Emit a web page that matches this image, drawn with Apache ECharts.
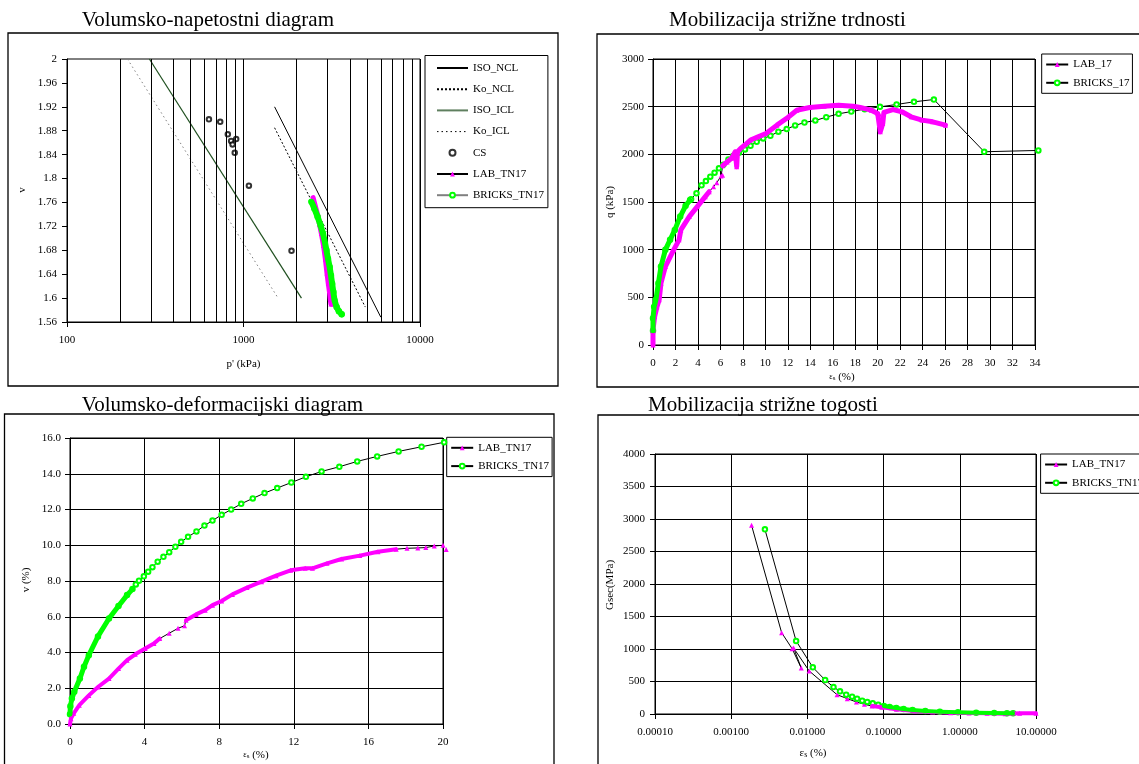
<!DOCTYPE html>
<html><head><meta charset="utf-8">
<script src="https://cdn.jsdelivr.net/npm/echarts@6/dist/echarts.min.js"></script>
<style>html,body{margin:0;padding:0;background:#fff}#c{width:1139px;height:764px}</style>
</head><body><div id="c"></div>
<script>
// ---------- Panel 1: Volumsko-napetostni diagram ----------
const p1GridX = [200,300,400,500,600,700,800,900,1000,2000,3000,4000,5000,6000,7000,8000,9000];
const p1IsoNCL = [[1500,1.92],[6000,1.568]];
const p1KoNCL = [[1500,1.885],[4900,1.585]];
const p1IsoICL = [[293,2.0],[2130,1.6]];
const p1KoICL = [[220,2.0],[1570,1.6]];
const p1CS = [[637,1.899],[738,1.895],[815,1.874],[851,1.863],[867,1.857],[909,1.866],[892,1.843],[1073,1.788],[1871,1.679]];
const p1LAB = [[2480,1.768],[2530,1.758],[2600,1.745],[2680,1.728],[2760,1.708],[2840,1.688],[2910,1.665],[2970,1.642],[3020,1.625],[3070,1.61],[3100,1.598],[3130,1.59],[3200,1.59]];
const p1Bricks = [[2428,1.761],[2520,1.75],[2630,1.736],[2730,1.722],[2820,1.708],[2890,1.694],[2950,1.680],[3010,1.666],[3077,1.652],[3130,1.638],[3178,1.624],[3230,1.61],[3280,1.596],[3370,1.585],[3470,1.578],[3600,1.573]];

// ---------- Panel 2: Mobilizacija strižne trdnosti ----------
const p2LabDense1 = [[0,0],[0,160],[0.15,300],[0.35,400],[0.55,474],[0.71,649],[1.1,823],[1.84,998],[2.32,1103],[2.48,1207],[3.23,1347],[3.94,1452],[4.65,1556],[5.0,1608]];
const p2LabSparse = [[5.39,1661],[5.68,1703],[6.06,1773],[6.19,1780]];
const p2LabDense2 = [[6.2,1880],[6.6,1920],[7.0,1960],[7.32,2027],[7.45,1870],[7.52,2027],[7.8,2062],[8.2,2100],[8.68,2150],[9.3,2180],[10.06,2219],[11.03,2306],[12.0,2387],[12.8,2463],[13.94,2491],[15.23,2505],[16.52,2516],[17.8,2505],[18.45,2491],[19.42,2463],[20.0,2428],[20.15,2420],[20.23,2236],[20.45,2324],[20.55,2439],[21.35,2470],[22.16,2446],[22.97,2394],[23.94,2359],[24.9,2341],[26.03,2306]];
const p2BricksDense = [[0,150],[0,280],[0.1,400],[0.26,474],[0.48,649],[0.71,823],[1.1,998],[1.52,1103],[1.94,1207],[2.42,1347],[2.9,1460],[3.3,1520]];
const p2BricksSparse = [[3.39,1528],[3.87,1591],[4.32,1675],[4.71,1720],[5.1,1766],[5.48,1808],[5.87,1853],[6.26,1891],[6.71,1947],[7.13,1982],[7.65,2017],[8.19,2052],[8.68,2090],[9.23,2132],[9.81,2167],[10.45,2195],[11.16,2237],[11.9,2265],[12.65,2303],[13.48,2334],[14.45,2355],[15.42,2390],[16.52,2425],[17.65,2449],[18.84,2474],[20.2,2498],[21.68,2523],[23.23,2551],[25.0,2575],[29.48,2027],[34.3,2041]];

// ---------- Panel 3: Volumsko-deformacijski diagram ----------
const p3LabDense1 = [[0,0],[0.05,0.3],[0.2,0.6],[0.5,1.05],[1.01,1.6],[1.5,2.07],[2.09,2.54],[2.6,3.1],[3.06,3.57],[3.5,3.9],[4.03,4.22],[4.5,4.5],[4.81,4.78]];
const p3LabSparse1 = [[5.32,5.08],[5.79,5.35],[6.14,5.5]];
const p3LabDense2 = [[6.22,5.81],[6.76,6.13],[7.25,6.37],[7.64,6.65],[8.13,6.88],[8.71,7.25],[9.49,7.63],[10.27,7.96],[11.05,8.3],[11.83,8.6],[12.61,8.71],[13.0,8.71],[13.78,8.99],[14.56,9.23],[15.54,9.42],[16.51,9.64],[17.49,9.78]];
const p3LabSparse2 = [[18.07,9.83],[18.65,9.85],[19.08,9.87],[19.53,9.96],[20.0,10.0],[20.17,9.76]];
const p3BricksDense = [[0,0.55],[0.02,1.0],[0.1,1.42],[0.23,1.8],[0.53,2.54],[0.75,3.2],[1.01,3.85],[1.5,4.9],[2.09,5.9],[2.6,6.6],[3.06,7.21],[3.35,7.55]];
const p3BricksSparse = [[3.53,7.81],[3.7,8.02],[3.96,8.26],[4.19,8.52],[4.42,8.77],[4.70,9.08],[5.01,9.35],[5.32,9.61],[5.65,9.91],[5.96,10.19],[6.33,10.47],[6.78,10.77],[7.21,11.1],[7.64,11.38],[8.13,11.7],[8.64,12.0],[9.18,12.32],[9.8,12.62],[10.43,12.92],[11.11,13.2],[11.87,13.51],[12.65,13.83],[13.49,14.13],[14.44,14.39],[15.40,14.69],[16.47,14.97],[17.62,15.25],[18.85,15.51],[20.06,15.76]];

// ---------- Panel 4: Mobilizacija strižne togosti ----------
const p4Lab = [[0.00185,2903],[0.00459,1251],[0.0063,1005],[0.0083,708],[0.00659,1015],[0.01056,662],[0.0245,297],[0.0334,236],[0.044,185],[0.056,149],[0.0705,123],[0.0946,103],[0.147,72],[0.254,46],[0.44,31],[0.76,21],[1.32,15],[2.28,10],[3.94,5],[6.1,10],[10,10]];
const p4Bricks = [[0.00277,2841],[0.00711,1123],[0.01178,718],[0.0171,523],[0.022,415],[0.0268,349],[0.0323,297],[0.0386,267],[0.0449,236],[0.0524,205],[0.061,185],[0.072,164],[0.085,144],[0.101,123],[0.12,108],[0.147,92],[0.183,77],[0.24,62],[0.353,46],[0.547,36],[0.946,26],[1.64,21],[2.83,15],[4.16,10],[5.0,10]];

const FONT = '"Liberation Serif","Times New Roman",serif';
const MAG = '#ff00ff', GRN = '#00ff00', BLK = '#000';

function axisBase(extra) {
  return Object.assign({
    axisLine: {show: true, onZero: false, lineStyle: {color: BLK, width: 1}},
    axisTick: {show: true, inside: false, length: 5, lineStyle: {color: BLK, width: 1}},
    axisLabel: {color: BLK, fontFamily: FONT, fontSize: 11},
    splitLine: {show: true, lineStyle: {color: BLK, width: 1, type: 'solid'}},
    minorTick: {show: false}, minorSplitLine: {show: false}
  }, extra);
}
const plain = v => String(v);
function lbl(margin, fmt) { return {color: BLK, fontFamily: FONT, fontSize: 11, margin: margin, formatter: fmt || plain}; }

const labSym = (name, xi, data, extra) => Object.assign({
  name, type: 'line', xAxisIndex: xi, yAxisIndex: xi, data, symbol: 'triangle', symbolSize: 5,
  showAllSymbol: true, itemStyle: {color: MAG}, lineStyle: {color: BLK, width: 1}, z: 3, silent: true
}, extra || {});
const brSym = (name, xi, data, extra) => Object.assign({
  name, type: 'line', xAxisIndex: xi, yAxisIndex: xi, data, symbol: 'emptyCircle', symbolSize: 4.5,
  showAllSymbol: true, itemStyle: {color: GRN, borderWidth: 1}, lineStyle: {color: BLK, width: 1}, z: 4, silent: true
}, extra || {});
const thick = (xi, data, color, w, z) => ({
  name: '_ov', type: 'line', xAxisIndex: xi, yAxisIndex: xi, data, symbol: 'none',
  lineStyle: {color, width: w, cap: 'round', join: 'round'}, z: z, silent: true
});

const noSym = {color: 'rgba(0,0,0,0)', borderWidth: 0, opacity: 0};
const legendBase = (left, top, names, itemWidth, gap, padding) => ({
  orient: 'vertical', left, top, data: names, itemWidth, itemHeight: 6, itemGap: gap,
  padding, borderColor: BLK, borderWidth: 1, backgroundColor: '#fff',
  textStyle: {color: BLK, fontFamily: FONT, fontSize: 11},
  formatter: n => n.slice(2), selectedMode: false, inactiveColor: BLK
});

const txt = (x, y, text, size, extra) => Object.assign({
  type: 'text', x, y, silent: true, z: 100,
  style: Object.assign({text, fill: BLK, font: size + 'px ' + FONT, align: 'left', verticalAlign: 'middle',
    textAlign: 'left', textVerticalAlign: 'middle'}, (extra && extra.style) || {})
}, extra && extra.rotation !== undefined ? {rotation: extra.rotation} : {});
const rect = (x, y, w, h) => ({type: 'rect', silent: true, z: -10, shape: {x, y, width: w, height: h},
  style: {fill: 'none', stroke: BLK, lineWidth: 1.3}});
const epsRich = (eSize, sSize) => ({
  rich: {
    e: {fontFamily: FONT, fontSize: eSize, fill: BLK},
    s: {fontFamily: FONT, fontSize: sSize, fill: BLK, padding: [3, 0, 0, 0]},
    p: {fontFamily: FONT, fontSize: 11, fill: BLK}
  }
});

const option = {
  animation: false,
  backgroundColor: '#fff',
  grid: [
    {left: 67, top: 59, width: 353, height: 263, show: true, borderColor: BLK, borderWidth: 1, backgroundColor: '#fff', outerBoundsMode: 'none', containLabel: false},
    {left: 653, top: 59, width: 382, height: 286, show: true, borderColor: BLK, borderWidth: 1, backgroundColor: '#fff', outerBoundsMode: 'none', containLabel: false},
    {left: 70, top: 438, width: 373, height: 286, show: true, borderColor: BLK, borderWidth: 1, backgroundColor: '#fff', outerBoundsMode: 'none', containLabel: false},
    {left: 655, top: 454, width: 381, height: 260, show: true, borderColor: BLK, borderWidth: 1, backgroundColor: '#fff', outerBoundsMode: 'none', containLabel: false}
  ],
  xAxis: [
    axisBase({type: 'log', logBase: 10, gridIndex: 0, min: 100, max: 10000, axisLabel: lbl(13, v => String(Math.round(v)))}),
    axisBase({type: 'value', gridIndex: 1, min: 0, max: 34, interval: 2, axisLabel: lbl(13)}),
    axisBase({type: 'value', gridIndex: 2, min: 0, max: 20, interval: 4, axisLabel: lbl(13)}),
    axisBase({type: 'log', logBase: 10, gridIndex: 3, min: 0.0001, max: 10, axisLabel: lbl(13, v => v.toFixed(5))})
  ],
  yAxis: [
    axisBase({type: 'value', gridIndex: 0, min: 1.56, max: 2, interval: 0.04, splitLine: {show: false}, axisLabel: lbl(10, v => String(+v.toFixed(2)))}),
    axisBase({type: 'value', gridIndex: 1, min: 0, max: 3000, interval: 500, axisLabel: lbl(9)}),
    axisBase({type: 'value', gridIndex: 2, min: 0, max: 16, interval: 2, axisLabel: lbl(9, v => v.toFixed(1))}),
    axisBase({type: 'value', gridIndex: 3, min: 0, max: 4000, interval: 500, axisLabel: lbl(10)})
  ],
  legend: [
    legendBase(425, 55.5, [
      {name: 'a:ISO_NCL', itemStyle: noSym}, {name: 'a:Ko_NCL', itemStyle: noSym},
      {name: 'a:ISO_ICL', itemStyle: noSym, lineStyle: {color: '#5f7f5f', width: 2}},
      {name: 'a:Ko_ICL', itemStyle: noSym, lineStyle: {color: BLK, width: 1}},
      'a:CS', 'a:LAB_TN17', 'a:BRICKS_TN17'], 31, 10.2, [7, 4, 7, 11]),
    legendBase(1041.7, 54, ['b:LAB_17','b:BRICKS_17'], 22, 7.3, [5, 3, 5, 3.5]),
    legendBase(446.7, 437.3, ['c:LAB_TN17','c:BRICKS_TN17'], 22, 7.3, [5, 3, 5, 3.5]),
    legendBase(1040.6, 454, ['d:LAB_TN17','d:BRICKS_TN17'], 22, 7.3, [5, 3, 5, 3.5])
  ],
  series: [
    // panel 1
    {name: 'a:ISO_NCL', type: 'line', xAxisIndex: 0, yAxisIndex: 0, data: p1IsoNCL, symbol: 'none', silent: true,
      itemStyle: {color: BLK}, lineStyle: {color: BLK, width: 1},
      markLine: {silent: true, symbol: 'none', label: {show: false}, animation: false,
        lineStyle: {color: BLK, width: 1, type: 'solid'}, emphasis: {disabled: true},
        data: p1GridX.map(v => ({xAxis: v}))}},
    {name: 'a:Ko_NCL', type: 'line', xAxisIndex: 0, yAxisIndex: 0, data: p1KoNCL, symbol: 'none', silent: true,
      itemStyle: {color: BLK}, lineStyle: {color: BLK, width: 1, type: [2, 2]}},
    {name: 'a:ISO_ICL', type: 'line', xAxisIndex: 0, yAxisIndex: 0, data: p1IsoICL, symbol: 'none', silent: true,
      itemStyle: {color: '#1f4f1f'}, lineStyle: {color: '#1f4f1f', width: 1.2}},
    {name: 'a:Ko_ICL', type: 'line', xAxisIndex: 0, yAxisIndex: 0, data: p1KoICL, symbol: 'none', silent: true,
      itemStyle: {color: '#808080'}, lineStyle: {color: '#808080', width: 1, type: [1.5, 3]}},
    {name: 'a:CS', type: 'scatter', xAxisIndex: 0, yAxisIndex: 0, data: p1CS, symbol: 'emptyCircle', symbolSize: 4.5, silent: true,
      itemStyle: {color: BLK, borderWidth: 1}},
    labSym('a:LAB_TN17', 0, p1LAB),
    thick(0, p1LAB, MAG, 5, 5),
    brSym('a:BRICKS_TN17', 0, p1Bricks, {lineStyle: {color: '#808080', width: 1.5}}),
    thick(0, p1Bricks, GRN, 6, 6),
    // panel 2
    labSym('b:LAB_17', 1, p2LabDense1.concat(p2LabSparse, p2LabDense2)),
    thick(1, p2LabDense1, MAG, 5, 5),
    thick(1, p2LabDense2, MAG, 5, 5),
    brSym('b:BRICKS_17', 1, p2BricksDense.concat(p2BricksSparse), {clip: false}),
    thick(1, p2BricksDense, GRN, 5, 6),
    // panel 3
    labSym('c:LAB_TN17', 2, p3LabDense1.concat(p3LabSparse1, p3LabDense2, p3LabSparse2), {clip: false}),
    thick(2, p3LabDense1, MAG, 4, 5),
    thick(2, p3LabDense2, MAG, 4, 5),
    brSym('c:BRICKS_TN17', 2, p3BricksDense.concat(p3BricksSparse), {clip: false}),
    thick(2, p3BricksDense, GRN, 5, 6),
    // panel 4
    labSym('d:LAB_TN17', 3, p4Lab),
    thick(3, p4Lab.slice(10), MAG, 4, 5),
    brSym('d:BRICKS_TN17', 3, p4Bricks),
    thick(3, p4Bricks.slice(13), GRN, 4, 6)
  ],
  graphic: [
    rect(8, 33, 550, 353), rect(597, 34, 600, 353), rect(4.5, 414, 549.5, 400), rect(598, 415, 600, 400),
    txt(81.8, 20.3, 'Volumsko-napetostni diagram', 21),
    txt(669, 20.3, 'Mobilizacija strižne trdnosti', 21),
    txt(81.8, 405.2, 'Volumsko-deformacijski diagram', 21),
    txt(648, 405.2, 'Mobilizacija strižne togosti', 21),
    // axis names
    txt(243.5, 364, "p' (kPa)", 11, {style: {align: 'center', textAlign: 'center'}}),
    txt(22.5, 190, 'v', 11, {rotation: Math.PI / 2, style: {align: 'center', textAlign: 'center'}}),
    txt(610, 202, 'q (kPa)', 11, {rotation: Math.PI / 2, style: {align: 'center', textAlign: 'center'}}),
    txt(842, 377, '{e|ε}{s|s}{p| (%)}', 11, {style: Object.assign({align: 'center', textAlign: 'center'}, epsRich(8, 7))}),
    txt(26, 580, 'v (%)', 11, {rotation: Math.PI / 2, style: {align: 'center', textAlign: 'center'}}),
    txt(256, 755, '{e|ε}{s|s}{p| (%)}', 11, {style: Object.assign({align: 'center', textAlign: 'center'}, epsRich(8, 7))}),
    txt(610, 585, 'Gsec(MPa)', 11, {rotation: Math.PI / 2, style: {align: 'center', textAlign: 'center'}}),
    txt(813, 753, '{e|ε}{s|s}{p| (%)}', 11, {style: Object.assign({align: 'center', textAlign: 'center'}, epsRich(11, 8))})
  ]
};
const chart = echarts.init(document.getElementById('c'), null, {renderer: 'canvas'});
chart.setOption(option);
</script></body></html>
